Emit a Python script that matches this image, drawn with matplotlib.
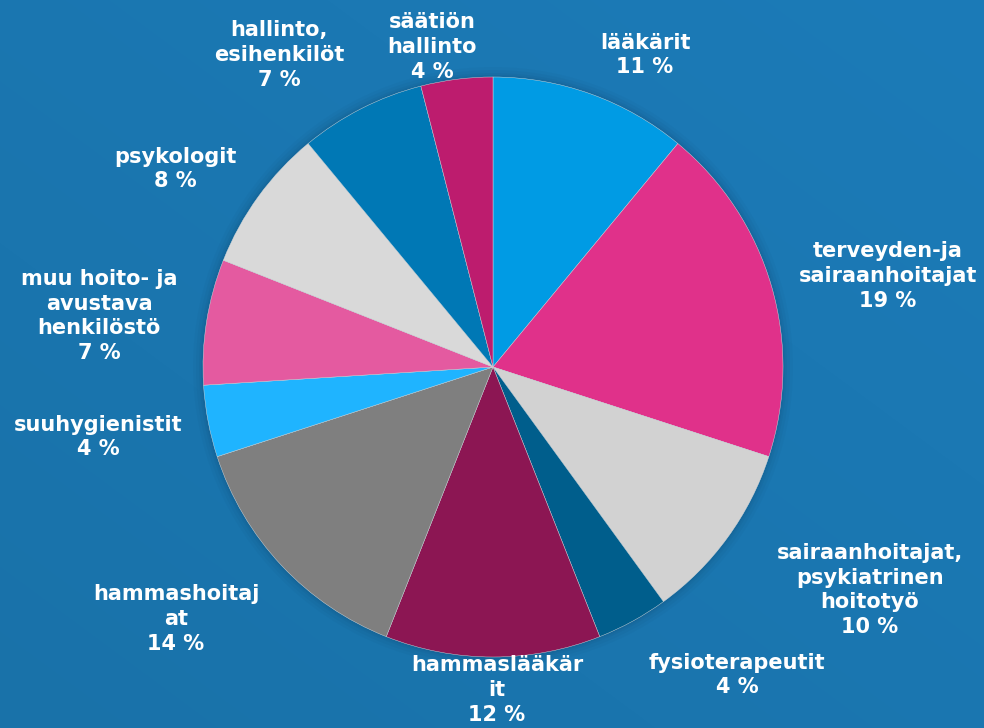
import numpy as np
import matplotlib.pyplot as plt
from matplotlib.patches import Circle

# data
categories = ['lääkärit', 'terveyden-ja\nsairaanhoitajat', 'sairaanhoitajat,\npsykiatrinen\nhoitotyö',
              'fysioterapeutit', 'hammaslääkär\nit', 'hammashoitaj\nat', 'suuhygienistit',
              'muu hoito- ja\navustava\nhenkilöstö', 'psykologit', 'hallinto,\nesihenkilöt',
              'säätiön\nhallinto']
shares = [11, 19, 10, 4, 12, 14, 4, 7, 8, 7, 4]

colors = ['#009be4', '#e0318a', '#d2d2d2', '#005e8c', '#8c1653', '#7f7f7f',
          '#1fb4ff', '#e45aa0', '#d9d9d9', '#0078b5', '#bd1c6e']

# label centres in pixels (x, y from top)
label_pos = [(645, 55), (888, 276), (870, 590), (737, 675), (497, 690), (176, 619),
             (98, 437), (99, 316), (175, 169), (279, 55), (432, 47)]

W, H = 984, 728
cx, cy, R = 493, 367, 290

fig = plt.figure(figsize=(W / 100, H / 100), dpi=100)
ax = fig.add_axes([0, 0, 1, 1])

# background, soft blue gradient
yy, xx = np.mgrid[0:H, 0:W]
g = 0.5 * xx / W + 0.5 * (1 - yy / H)
c0 = np.array([0x19, 0x72, 0xa9]) / 255
c1 = np.array([0x1c, 0x7b, 0xb8]) / 255
bg = c0[None, None, :] * (1 - g[..., None]) + c1[None, None, :] * g[..., None]
ax.imshow(bg, extent=(0, W, 0, H), origin='upper', zorder=0)

# soft shadow round the pie
for k, a in zip([10, 7, 4, 2], [0.04, 0.05, 0.06, 0.08]):
    ax.add_patch(Circle((cx, H - cy), R + k, color='#0a3a5c', alpha=a, lw=0, zorder=1))

ax.pie(shares, colors=colors, startangle=90, counterclock=False,
       center=(cx, H - cy), radius=R, frame=True,
       wedgeprops=dict(linewidth=0.3, edgecolor='#dddddd', zorder=2))
ax.set_xlim(0, W)
ax.set_ylim(0, H)
ax.set_aspect('equal')
ax.axis('off')

for name, val, (x, y) in zip(categories, shares, label_pos):
    ax.text(x, H - y, f'{name}\n{val} %', ha='center', va='center', color='white',
            fontsize=15, fontweight='bold', family='DejaVu Sans',
            linespacing=1.3, zorder=5)

fig.savefig('out.png', dpi=100)
